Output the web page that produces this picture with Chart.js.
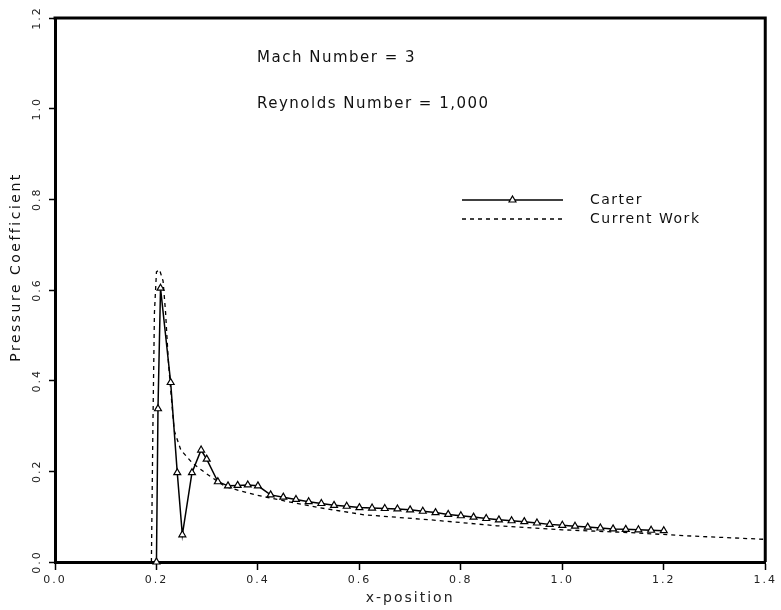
<!DOCTYPE html>
<html><head><meta charset="utf-8">
<script src="https://cdn.jsdelivr.net/npm/chart.js@4/dist/chart.umd.min.js"></script>
<style>html,body{margin:0;padding:0;background:#fff;}#wrap{width:781px;height:610px;}</style>
</head><body><div id="wrap"><canvas id="c" width="781" height="610"></canvas></div>
<script>
// ---- data ----
const xTicks = [0.0, 0.2, 0.4, 0.6, 0.8, 1.0, 1.2, 1.4];
const yTicks = [0.0, 0.2, 0.4, 0.6, 0.8, 1.0, 1.2];
const carterX = [0.200, 0.203, 0.208, 0.228, 0.241, 0.251, 0.270, 0.288, 0.299, 0.321, 0.341, 0.360, 0.380, 0.400,
  0.425, 0.450, 0.475, 0.500, 0.525, 0.550, 0.575, 0.600, 0.625, 0.650, 0.675, 0.700, 0.725, 0.750, 0.775, 0.800,
  0.825, 0.850, 0.875, 0.900, 0.925, 0.950, 0.975, 1.000, 1.025, 1.050, 1.075, 1.100, 1.125, 1.150, 1.175, 1.200];
const carterY = [0.000, 0.338, 0.604, 0.396, 0.197, 0.060, 0.197, 0.247, 0.227, 0.177, 0.168, 0.169, 0.170, 0.168,
  0.148, 0.143, 0.138, 0.133, 0.129, 0.125, 0.123, 0.120, 0.119, 0.118, 0.117, 0.115, 0.112, 0.109, 0.105, 0.102,
  0.099, 0.096, 0.093, 0.091, 0.089, 0.086, 0.083, 0.081, 0.079, 0.077, 0.075, 0.073, 0.072, 0.071, 0.070, 0.069];
const currentX = [0.190, 0.193, 0.196, 0.200, 0.206, 0.213, 0.218, 0.223, 0.228, 0.235, 0.248, 0.271, 0.297, 0.336,
  0.395, 0.460, 0.520, 0.610, 0.740, 0.870, 1.000, 1.130, 1.260, 1.400];
const currentY = [0.000, 0.300, 0.550, 0.640, 0.645, 0.620, 0.550, 0.450, 0.380, 0.290, 0.247, 0.218, 0.196, 0.166,
  0.148, 0.133, 0.120, 0.104, 0.093, 0.080, 0.071, 0.065, 0.057, 0.050];
const seriesNames = ['Carter', 'Current Work'];
const xTitle = 'x-position';
const yTitle = 'Pressure Coefficient';
const noteLines = ['Mach Number = 3', 'Reynolds Number = 1,000'];

const FONT = "'DejaVu Sans', sans-serif";

const framePlugin = {
  id: 'frame',
  beforeLayout(chart) { chart.ctx.letterSpacing = '2px'; },
  beforeDraw(chart) { chart.ctx.letterSpacing = '2px'; },
  afterDraw(chart) {
    const ctx = chart.ctx, a = chart.chartArea;
    ctx.save();
    ctx.strokeStyle = '#000'; ctx.lineWidth = 3;
    ctx.beginPath();
    ctx.moveTo(a.left - 1.5, a.top); ctx.lineTo(a.right, a.top); ctx.lineTo(a.right, a.bottom);
    ctx.stroke();
    // notes
    ctx.fillStyle = '#111';
    ctx.font = '15px ' + FONT;
    ctx.letterSpacing = '1.5px';
    ctx.textBaseline = 'middle'; ctx.textAlign = 'left';
    ctx.fillText(noteLines[0], 257, 58);
    ctx.fillText(noteLines[1], 257, 104);
    // legend
    const ds = chart.data.datasets;
    const lx0 = 462, lx1 = 563, tx = 590;
    const ly = [200, 219];
    ctx.font = '14px ' + FONT;
    ds.forEach((d, i) => {
      ctx.save();
      ctx.strokeStyle = d.borderColor; ctx.lineWidth = d.borderWidth;
      ctx.setLineDash(d.borderDash || []);
      ctx.beginPath(); ctx.moveTo(lx0, ly[i]); ctx.lineTo(lx1, ly[i]); ctx.stroke();
      ctx.setLineDash([]);
      if (d.pointRadius > 0) {
        ctx.fillStyle = d.pointBackgroundColor;
        ctx.strokeStyle = d.pointBorderColor;
        ctx.lineWidth = d.pointBorderWidth;
        Chart.helpers.drawPoint(ctx, {pointStyle: d.pointStyle, radius: d.pointRadius, borderWidth: d.pointBorderWidth}, (lx0 + lx1) / 2, ly[i]);
      }
      ctx.restore();
      ctx.fillStyle = '#111';
      ctx.fillText(d.label, tx, ly[i]);
    });
    // y title
    ctx.save();
    ctx.font = '14px ' + FONT;
    ctx.letterSpacing = '2.5px';
    ctx.translate(16, 267);
    ctx.rotate(-Math.PI / 2);
    ctx.textAlign = 'center'; ctx.textBaseline = 'middle';
    ctx.fillText(yTitle, 0, 0);
    ctx.restore();
    ctx.restore();
  }
};

const toPts = (xs, ys) => xs.map((x, i) => ({x, y: ys[i]}));

new Chart(document.getElementById('c'), {
  type: 'scatter',
  data: {
    datasets: [
      {
        label: seriesNames[0], data: toPts(carterX, carterY), showLine: true,
        borderColor: '#000', borderWidth: 1.5, tension: 0,
        pointStyle: 'triangle', pointRadius: 4, pointBorderWidth: 1.2,
        pointBackgroundColor: '#fff', pointBorderColor: '#000', clip: false, order: 1
      },
      {
        label: seriesNames[1], data: toPts(currentX, currentY), showLine: true,
        borderColor: '#000', borderWidth: 1.3, borderDash: [4, 4], tension: 0,
        pointRadius: 0, clip: false, order: 2
      }
    ]
  },
  options: {
    responsive: false, animation: false, devicePixelRatio: 1,
    layout: {padding: {left: 0, top: 18, right: 11, bottom: 0}},
    plugins: {legend: {display: false}, tooltip: {enabled: false}},
    scales: {
      x: {
        type: 'linear', min: 0, max: 1.4,
        afterBuildTicks: s => { s.ticks = xTicks.map(v => ({value: v})); },
        afterFit: s => { s.height = 48; },
        ticks: {callback: v => Number(v).toFixed(1), color: '#222', font: {family: FONT, size: 11}, padding: 4, maxRotation: 0},
        grid: {drawOnChartArea: false, drawTicks: true, tickLength: 8, tickWidth: 1.5, tickColor: '#000'},
        border: {display: true, color: '#000', width: 3},
        title: {display: true, text: xTitle, color: '#222', font: {family: FONT, size: 14}, padding: {top: 0, bottom: 3}}
      },
      y: {
        type: 'linear', min: 0, max: 1.2,
        afterBuildTicks: s => { s.ticks = yTicks.map(v => ({value: v})); },
        afterFit: s => { s.width = 55; },
        ticks: {callback: v => Number(v).toFixed(1), color: '#222', font: {family: FONT, size: 11}, padding: 0,
                minRotation: 90, maxRotation: 90, crossAlign: 'center'},
        grid: {drawOnChartArea: false, drawTicks: true, tickLength: 6, tickWidth: 1.5, tickColor: '#000'},
        border: {display: true, color: '#000', width: 3}
      }
    }
  },
  plugins: [framePlugin]
});
</script>
</body></html>
